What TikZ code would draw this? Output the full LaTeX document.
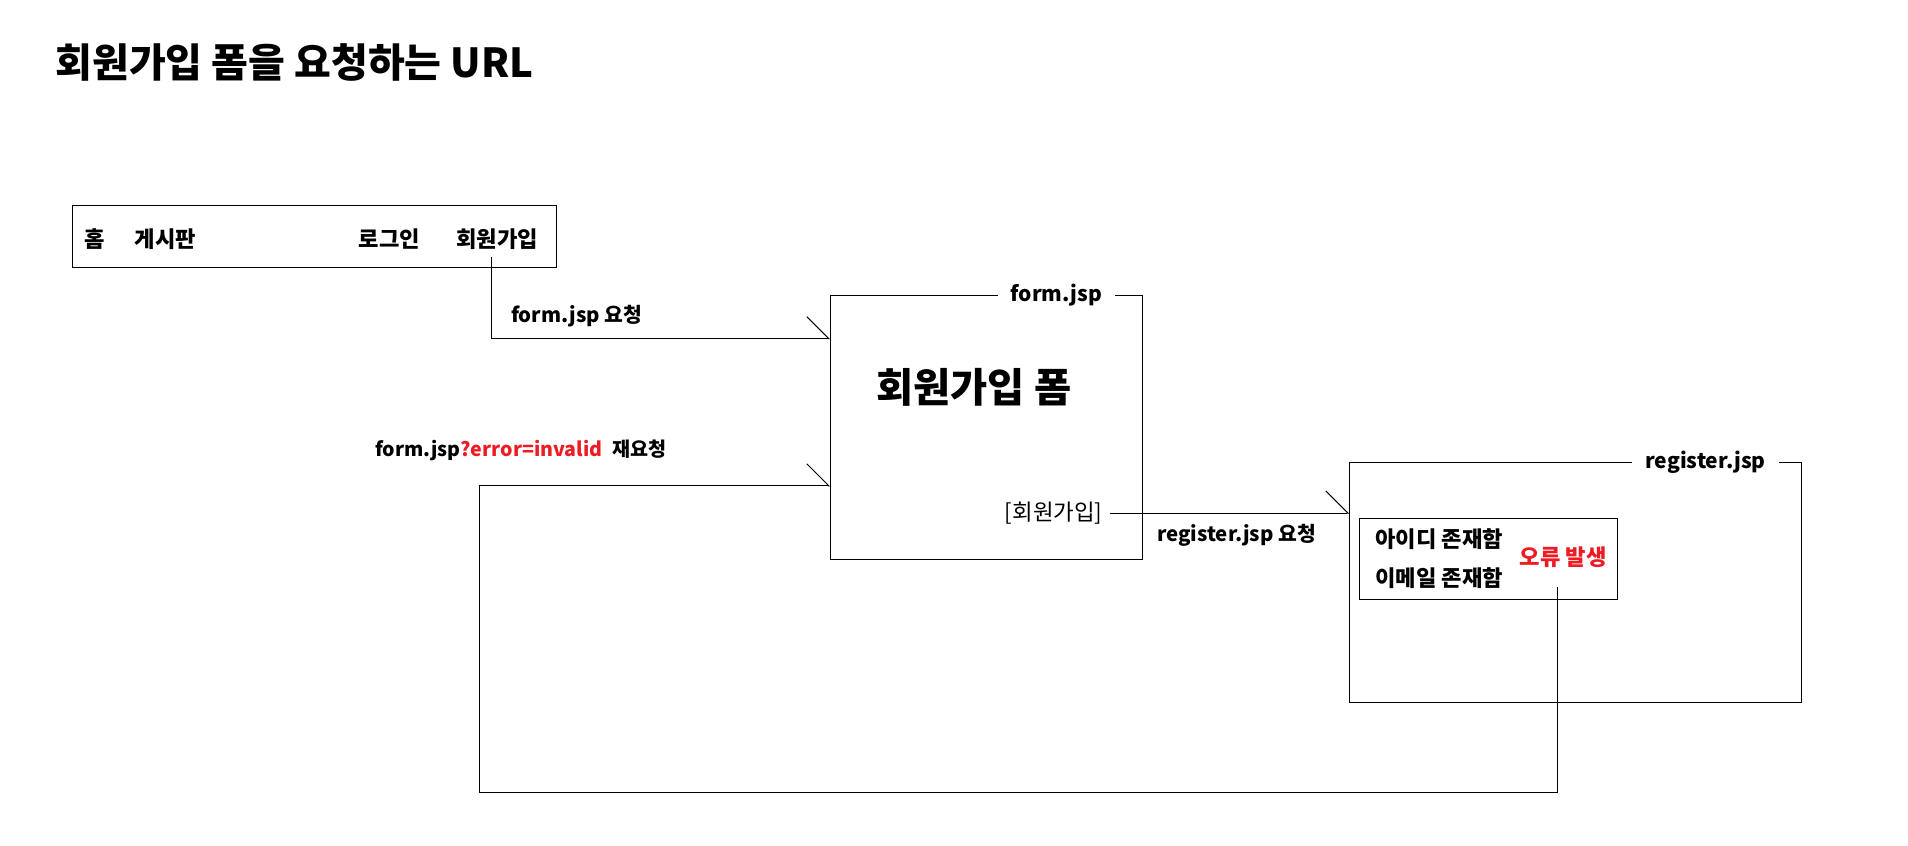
\documentclass[tikz,border=0pt]{standalone}
\usepackage{fontspec}
\setmainfont{Noto Sans CJK KR}
\usepackage{tikz}
\usetikzlibrary{arrows.meta}
\usetikzlibrary{positioning}
\definecolor{errred}{RGB}{237,28,36}

\begin{document}
\begin{tikzpicture}[x=0.5pt, y=-0.5pt,
    every node/.style={font=\fontsize{11.1}{13}\selectfont\bfseries},
    box/.style={draw, line width=0.5pt, inner sep=0pt},
    tab/.style={fill=white, inner xsep=6.5pt, inner ysep=1pt, font=\fontsize{10.5}{12}\selectfont\bfseries},
    lbl/.style={anchor=west, inner xsep=0pt, font=\fontsize{10.2}{12}\selectfont\bfseries},
    req/.style={line width=0.5pt, -{Straight Barb[harpoon, length=11pt, width=22pt]}}]
    \useasboundingbox (0,0) rectangle (1908,846);
    \node[lbl, font=\fontsize{20}{24}\selectfont\bfseries] (title) at (55,62) {회원가입 폼을 요청하는 URL};
    % menu bar
    \node[box, minimum width=242pt, minimum height=30.8pt] (nav) at (314,236.5) {};
    \node (home) at (95,239) {홈};
    \node (board) at (165.5,239) {게시판};
    \node (login) at (389.5,239) {로그인};
    \node (signup) at (497,239) {회원가입};
    % form.jsp
    \node[box, minimum width=156pt, minimum height=131.9pt] (form) at (986.5,427.4) {};
    \node[tab, anchor=east] (formtab) at ([xshift=-13.7pt]form.north east) {form.jsp};
    \node[font=\fontsize{20.2}{24}\selectfont\bfseries] (formtitle) at (973.7,387.4) {회원가입 폼};
    \node[font=\fontsize{11.2}{13}\selectfont] (submit) at (1053.7,513) {[회원가입]};
    % register.jsp
    \node[box, minimum width=226pt, minimum height=120pt] (register) at (1575.5,582.3) {};
    \node[tab, anchor=east] (regtab) at ([xshift=-11.5pt]register.north east) {register.jsp};
    \node[box, minimum width=129pt, minimum height=40.5pt] (check) at (1488.2,558.8) {};
    \node (idcheck) at (1439.2,539) {아이디 존재함};
    \node (mailcheck) at (1439.2,578.3) {이메일 존재함};
    \node[text=errred] (error) at (1563.3,557.5) {오류 발생};
    % requests
    \coordinate (formin) at ([yshift=-21.85pt]form.north west);
    \coordinate (formback) at ([yshift=-95.4pt]form.north west);
    \coordinate (errout) at (1557.5,587.3);
    \coordinate (backturn) at (479.7,792.4);
    \draw[req] ([xshift=-2.7pt]signup.south) |- (formin);
    \draw[req] (submit.east) -- (submit.east -| register.west);
    \draw[req] (errout) |- (backturn) |- (formback);
    \node[lbl] (askform) at (510.6,316) {form.jsp 요청};
    \node[lbl] (askreg) at (1156.6,535) {register.jsp 요청};
    \node[lbl, font=\fontsize{9.8}{12}\selectfont\bfseries] (askagain) at (374.6,450.5) {form.jsp\textcolor{errred}{?error=invalid}\hspace{5pt}재요청};
\end{tikzpicture}
\end{document}
